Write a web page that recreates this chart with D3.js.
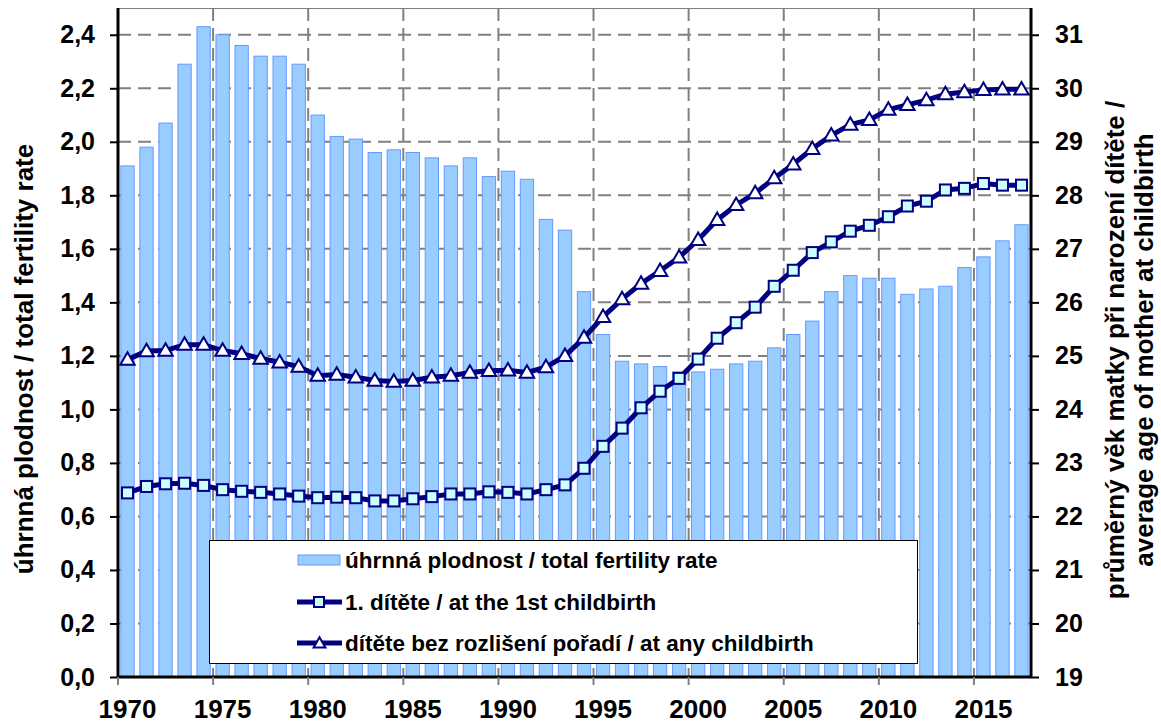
<!DOCTYPE html>
<html>
<head>
<meta charset="utf-8">
<script src="https://cdn.jsdelivr.net/npm/d3@7"></script>
<style>
  body { margin: 0; background: #fff; }
  svg text { font-family: "Liberation Sans", Arial, sans-serif; font-weight: bold; fill: #000; }
</style>
</head>
<body>
<div class="svg-container"></div>
<script>
/*** Data ***/

const years = [1970, 1971, 1972, 1973, 1974, 1975, 1976, 1977, 1978, 1979,
    1980, 1981, 1982, 1983, 1984, 1985, 1986, 1987, 1988, 1989,
    1990, 1991, 1992, 1993, 1994, 1995, 1996, 1997, 1998, 1999,
    2000, 2001, 2002, 2003, 2004, 2005, 2006, 2007, 2008, 2009,
    2010, 2011, 2012, 2013, 2014, 2015, 2016, 2017]

// úhrnná plodnost / total fertility rate (left axis)
const tfr = [1.91, 1.98, 2.07, 2.29, 2.43, 2.40, 2.36, 2.32, 2.32, 2.29,
    2.10, 2.02, 2.01, 1.96, 1.97, 1.96, 1.94, 1.91, 1.94, 1.87,
    1.89, 1.86, 1.71, 1.67, 1.44, 1.28, 1.18, 1.17, 1.16, 1.14,
    1.14, 1.15, 1.17, 1.18, 1.23, 1.28, 1.33, 1.44, 1.50, 1.49,
    1.49, 1.43, 1.45, 1.46, 1.53, 1.57, 1.63, 1.69]

// average age of mother at the 1st childbirth (right axis)
const ageFirst = [22.44, 22.56, 22.61, 22.62, 22.58, 22.50, 22.47, 22.45, 22.42, 22.38,
    22.35, 22.36, 22.35, 22.29, 22.29, 22.33, 22.37, 22.42, 22.42, 22.46,
    22.45, 22.42, 22.50, 22.59, 22.90, 23.31, 23.65, 24.03, 24.34, 24.58,
    24.94, 25.33, 25.62, 25.91, 26.30, 26.60, 26.93, 27.13, 27.33, 27.44,
    27.60, 27.80, 27.89, 28.10, 28.13, 28.22, 28.19, 28.19]

// average age of mother at any childbirth (right axis)
const ageAll = [24.93, 25.09, 25.10, 25.21, 25.21, 25.10, 25.04, 24.95, 24.88, 24.80,
    24.63, 24.65, 24.60, 24.54, 24.52, 24.54, 24.60, 24.63, 24.69, 24.72,
    24.73, 24.69, 24.79, 25.00, 25.34, 25.73, 26.06, 26.35, 26.59, 26.84,
    27.17, 27.54, 27.82, 28.04, 28.32, 28.58, 28.87, 29.12, 29.32, 29.41,
    29.60, 29.69, 29.78, 29.89, 29.93, 29.97, 29.98, 29.98]

const leftTicks = [0, 0.2, 0.4, 0.6, 0.8, 1.0, 1.2, 1.4, 1.6, 1.8, 2.0, 2.2, 2.4]
const rightTicks = [19, 20, 21, 22, 23, 24, 25, 26, 27, 28, 29, 30, 31]
const yearLabels = [1970, 1975, 1980, 1985, 1990, 1995, 2000, 2005, 2010, 2015]

const leftTitle = "úhrnná plodnost / total fertility rate"
const rightTitle = ["průměrný věk matky při narození dítěte /", "average age of mother at childbirth"]
const legendLabels = ["úhrnná plodnost / total fertility rate",
    "1. dítěte / at the 1st childbirth",
    "dítěte bez rozlišení pořadí / at any childbirth"]

/*** Layout ***/

const svgWidth = 1161
const svgHeight = 724

const plotLeft = 118
const plotRight = 1031
const plotTop = 8
const plotBottom = 677

const navy = "#000080"
const grid = "#808080"

let svg = d3.select(".svg-container")
    .append("svg")
    .attr("width", svgWidth)
    .attr("height", svgHeight)

/* Scales */

let xScale = d3.scaleBand()
    .domain(years)
    .range([plotLeft, plotRight])

let yLeft = d3.scaleLinear()
    .domain([0, 2.5])
    .range([plotBottom, plotTop])

let yRight = d3.scaleLinear()
    .domain([19, 31.5])
    .range([plotBottom, plotTop])

const bw = xScale.bandwidth()
const cx = (y) => xScale(y) + bw / 2

/* Grid (behind bars) */

svg.append("g")
    .selectAll("line")
    .data(leftTicks.filter(d => d > 0))
    .enter()
    .append("line")
    .attr("x1", plotLeft)
    .attr("x2", plotRight)
    .attr("y1", d => yLeft(d))
    .attr("y2", d => yLeft(d))
    .attr("stroke", grid)
    .attr("stroke-width", 2)
    .attr("stroke-dasharray", "13,7")

svg.append("g")
    .selectAll("line")
    .data(yearLabels.filter(d => d > 1970))
    .enter()
    .append("line")
    .attr("x1", d => xScale(d))
    .attr("x2", d => xScale(d))
    .attr("y1", plotTop)
    .attr("y2", plotBottom)
    .attr("stroke", grid)
    .attr("stroke-width", 2)
    .attr("stroke-dasharray", "13,7")

// plot area top border
svg.append("line")
    .attr("x1", plotLeft).attr("x2", plotRight)
    .attr("y1", plotTop + 0.5).attr("y2", plotTop + 0.5)
    .attr("stroke", grid)

/* Bars */

svg.append("g")
    .selectAll("rect")
    .data(years)
    .enter()
    .append("rect")
    .attr("x", (d) => xScale(d) + bw * 0.15)
    .attr("y", (d, i) => yLeft(tfr[i]))
    .attr("width", bw * 0.7)
    .attr("height", (d, i) => yLeft(0) - yLeft(tfr[i]))
    .attr("fill", "#99ccff")
    .attr("stroke", "#6699ff")
    .attr("stroke-width", 1)

/* Legend box */

const lg = svg.append("g")

lg.append("rect")
    .attr("x", 209.5)
    .attr("y", 540.5)
    .attr("width", 708)
    .attr("height", 123)
    .attr("fill", "white")
    .attr("stroke", "black")

/* Lines */

let ageLine = d3.line()
    .x((d, i) => cx(years[i]))
    .y((d) => yRight(d))

svg.append("path")
    .datum(ageAll)
    .attr("d", ageLine)
    .attr("fill", "none")
    .attr("stroke", navy)
    .attr("stroke-width", 5)

svg.append("path")
    .datum(ageFirst)
    .attr("d", ageLine)
    .attr("fill", "none")
    .attr("stroke", navy)
    .attr("stroke-width", 5)

const tri = d3.symbol().type(d3.symbolTriangle).size(90)

svg.append("g")
    .selectAll("path")
    .data(ageAll)
    .enter()
    .append("path")
    .attr("d", tri)
    .attr("transform", (d, i) => `translate(${cx(years[i])}, ${yRight(d) + 1})`)
    .attr("fill", "white")
    .attr("stroke", navy)
    .attr("stroke-width", 2)

svg.append("g")
    .selectAll("rect")
    .data(ageFirst)
    .enter()
    .append("rect")
    .attr("x", (d, i) => cx(years[i]) - 5.5)
    .attr("y", (d) => yRight(d) - 5.5)
    .attr("width", 11)
    .attr("height", 11)
    .attr("fill", "#ccffff")
    .attr("stroke", navy)
    .attr("stroke-width", 2)

/* Axes */

let leftAxis = d3.axisLeft(yLeft)
    .tickValues(leftTicks)
    .tickSize(8)
    .tickPadding(15)
    .tickFormat(d => d3.format(".1f")(d).replace(".", ","))

let yAxisL = svg.append("g")
    .attr("transform", `translate(${plotLeft}, 0)`)
    .call(leftAxis)

yAxisL.select(".domain").remove()
yAxisL.selectAll("line").attr("stroke", "black").attr("stroke-width", 2)
yAxisL.selectAll("text").style("font-size", "25px")

let rightAxis = d3.axisRight(yRight)
    .tickValues(rightTicks)
    .tickSize(8)
    .tickPadding(16)

let yAxisR = svg.append("g")
    .attr("transform", `translate(${plotRight}, 0)`)
    .call(rightAxis)

yAxisR.select(".domain").remove()
yAxisR.selectAll("line").attr("stroke", "black").attr("stroke-width", 2)
yAxisR.selectAll("text").style("font-size", "25px")

// axis lines
svg.append("line")
    .attr("x1", plotLeft).attr("x2", plotLeft)
    .attr("y1", plotTop).attr("y2", plotBottom)
    .attr("stroke", "black").attr("stroke-width", 3)
svg.append("line")
    .attr("x1", plotRight).attr("x2", plotRight)
    .attr("y1", plotTop).attr("y2", plotBottom)
    .attr("stroke", "black").attr("stroke-width", 3)
svg.append("line")
    .attr("x1", plotLeft).attr("x2", plotRight)
    .attr("y1", plotBottom).attr("y2", plotBottom)
    .attr("stroke", "black").attr("stroke-width", 3)

// x tick marks sit on category boundaries
svg.append("g")
    .selectAll("line")
    .data(yearLabels)
    .enter()
    .append("line")
    .attr("x1", d => xScale(d))
    .attr("x2", d => xScale(d))
    .attr("y1", plotBottom)
    .attr("y2", plotBottom + 8)
    .attr("stroke", grid)
    .attr("stroke-width", 2)

let bottomAxis = d3.axisBottom(xScale)
    .tickValues(yearLabels)
    .tickSize(0)
    .tickPadding(23)

let xAxis = svg.append("g")
    .attr("transform", `translate(0, ${plotBottom})`)
    .call(bottomAxis)

xAxis.select(".domain").remove()
xAxis.selectAll("text").style("font-size", "26px")

/* Axis titles */

svg.append("text")
    .attr("transform", `translate(33, 359) rotate(-90)`)
    .style("text-anchor", "middle")
    .style("font-size", "26px")
    .text(leftTitle)

svg.append("g")
    .selectAll("text")
    .data(rightTitle)
    .enter()
    .append("text")
    .attr("transform", (d, i) => `translate(${1124 + i * 29}, 350) rotate(-90)`)
    .style("text-anchor", "middle")
    .style("font-size", "26px")
    .text(d => d)

/* Legend entries */

const rowY = [560, 602, 643]

lg.append("rect")
    .attr("x", 298)
    .attr("y", rowY[0] - 5)
    .attr("width", 42)
    .attr("height", 10)
    .attr("fill", "#99ccff")
    .attr("stroke", "#6699ff")

lg.selectAll("line.sw")
    .data([1, 2])
    .enter()
    .append("line")
    .attr("x1", 297)
    .attr("x2", 342)
    .attr("y1", d => rowY[d])
    .attr("y2", d => rowY[d])
    .attr("stroke", navy)
    .attr("stroke-width", 5)

lg.append("rect")
    .attr("x", 314)
    .attr("y", rowY[1] - 5)
    .attr("width", 10)
    .attr("height", 10)
    .attr("fill", "#ccffff")
    .attr("stroke", navy)
    .attr("stroke-width", 2)

lg.append("path")
    .attr("d", d3.symbol().type(d3.symbolTriangle).size(60))
    .attr("transform", `translate(319.5, ${rowY[2] + 1})`)
    .attr("fill", "white")
    .attr("stroke", navy)
    .attr("stroke-width", 2)

lg.selectAll("text")
    .data(legendLabels)
    .enter()
    .append("text")
    .attr("x", 345)
    .attr("y", (d, i) => rowY[i])
    .attr("dy", "0.35em")
    .style("font-size", "22.5px")
    .text(d => d)
</script>
</body>
</html>
